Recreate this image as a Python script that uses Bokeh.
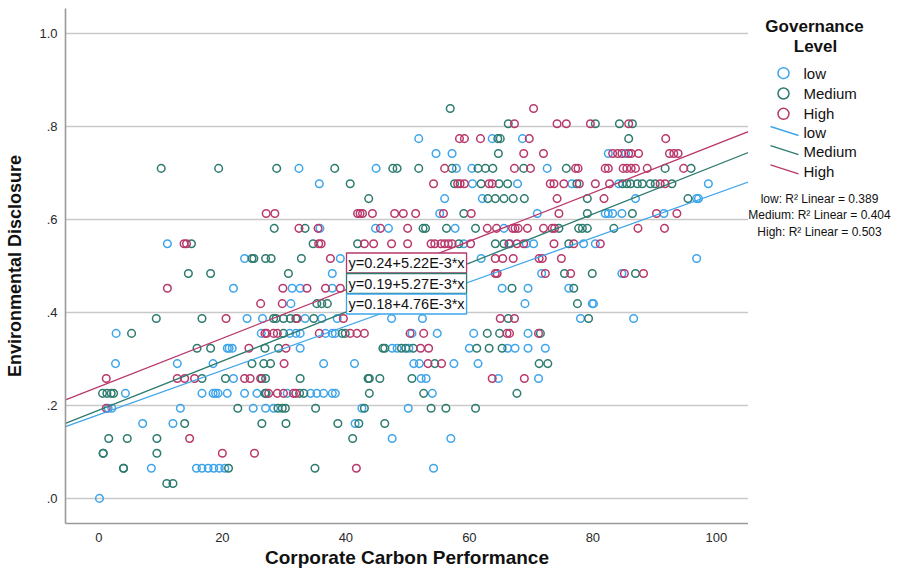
import numpy as np
from bokeh.plotting import figure
from bokeh.layouts import row
from bokeh.models import Range1d, Label, FixedTicker
from bokeh.core.properties import value
from bokeh.embed import file_html
from bokeh.resources import INLINE

FONT = "Liberation Sans"

# ---------------- data (Corporate Carbon Performance, Environmental Disclosure) ----------------
groups = ["low", "Medium", "High"]
colors = ["#3fa5ea", "#2e7b6f", "#b9386b"]

low_rows = [
    (0.774, [51.8, 63.7, 68.6]),
    (0.742, [54.6, 57.2, 82.5, 85.3]),
    (0.710, [32.4, 44.9, 57.9, 60.4, 72.6]),
    (0.677, [35.7, 60.5, 67.8, 76.6, 84.2, 98.7]),
    (0.645, [56.0, 62.1, 86.9, 96.8, 97.1]),
    (0.613, [55.2, 71.0, 82.0, 82.5, 83.2, 84.7, 91.5]),
    (0.581, [35.8, 44.8, 46.9, 57.7, 65.6]),
    (0.548, [11.1, 59.1, 66.6, 69.2, 70.4, 78.5, 80.4]),
    (0.516, [23.6, 39.1, 61.9, 96.8]),
    (0.484, [37.8, 71.7, 84.7]),
    (0.452, [21.8, 31.3, 32.6, 37.8, 65.3, 69.5, 76.1]),
    (0.419, [31.1, 69.0, 79.9, 80.1]),
    (0.387, [24.0, 26.5, 33.4, 36.1, 38.6, 47.4, 52.4, 78.0, 86.6]),
    (0.355, [2.8, 26.3, 30.9, 31.9, 32.6, 36.7, 37.8, 38.3, 50.7, 54.8, 60.7, 69.5]),
    (0.323, [20.8, 21.1, 21.6, 32.6, 47.5, 48.3, 50.2, 60.0, 66.2, 67.4, 69.5, 72.3]),
    (0.290, [2.7, 12.7, 18.5, 36.4, 41.4, 51.0, 51.9, 57.5, 61.4]),
    (0.258, [21.8, 52.2, 53.0, 64.7, 71.2]),
    (0.226, [4.3, 16.7, 18.5, 18.9, 19.3, 20.8, 23.6, 25.6, 30.5, 34.3, 35.3, 36.4, 37.8, 38.3, 54.0]),
    (0.194, [1.5, 2.1, 13.2, 25.0, 27.0, 28.3, 42.6, 50.1]),
    (0.161, [7.1, 12.0, 41.5]),
    (0.129, [47.5, 57.0]),
    (0.065, [8.5, 15.8, 16.7, 17.7, 18.6, 19.5, 20.4, 54.2]),
    (0.000, [0.1]),
]

medium_rows = [
    (0.839, [56.9]),
    (0.806, [66.3, 80.4, 84.3, 86.4]),
    (0.774, [64.6, 65.0, 85.8]),
    (0.742, [64.7]),
    (0.710, [10.1, 19.4, 28.8, 38.2, 47.6, 48.3, 51.8, 57.2, 61.4, 62.6, 63.8, 68.8, 75.7, 91.7, 95.9]),
    (0.677, [40.7, 57.6, 61.9, 64.8, 66.2, 77.4, 84.8, 85.5, 86.1, 87.2, 88.0, 89.3, 90.1, 92.8]),
    (0.645, [43.7, 63.0, 64.2, 65.6, 67.1, 68.9, 79.1, 95.4]),
    (0.613, [59.1, 79.1, 86.4]),
    (0.581, [28.4, 33.4, 52.5, 52.9, 56.3, 61.0, 74.5, 77.7, 78.3, 79.1, 83.4]),
    (0.548, [15.0, 34.7, 41.9, 58.3, 64.2, 65.6, 76.1]),
    (0.516, [24.8, 25.1, 27.0, 27.9, 32.8]),
    (0.484, [14.5, 18.1, 30.7, 75.4, 79.9, 86.9]),
    (0.452, [66.9, 76.9]),
    (0.419, [35.3, 36.1, 37.0, 77.5]),
    (0.387, [9.3, 16.7, 28.3, 28.7, 29.9, 31.0, 31.9, 34.8, 66.3, 79.3]),
    (0.355, [5.3, 29.9, 39.4, 39.9, 62.9, 64.9, 71.5]),
    (0.323, [15.9, 18.1, 26.9, 29.1, 46.0, 46.3, 49.0, 49.7, 50.9, 61.2, 63.2, 65.3]),
    (0.290, [24.8, 26.7, 27.8, 54.4, 71.3, 72.7]),
    (0.258, [16.7, 20.5, 26.4, 27.0, 32.6, 43.6, 43.8, 45.5, 50.7]),
    (0.226, [0.6, 1.3, 2.0, 2.4, 26.9, 27.1, 32.5, 33.2, 43.8, 52.6, 67.7]),
    (0.194, [22.5, 29.0, 29.7, 30.2, 35.1, 43.0, 53.8, 56.2, 61.0]),
    (0.161, [13.9, 26.4, 30.3, 38.7, 42.1, 46.3]),
    (0.129, [1.6, 4.6, 9.4, 41.1]),
    (0.097, [0.7, 0.7, 9.4]),
    (0.065, [4.0, 4.0, 21.0, 35.0]),
    (0.032, [11.0, 12.0]),
]

high_rows = [
    (0.839, [70.4]),
    (0.806, [67.3, 74.2, 75.7, 79.6, 85.8]),
    (0.774, [58.4, 59.2, 61.8, 69.7, 91.8]),
    (0.742, [68.8, 72.0, 83.2, 84.0, 84.7, 85.8, 86.2, 87.4, 92.4, 93.1, 93.8]),
    (0.710, [56.0, 67.3, 69.9, 77.2, 77.6, 82.0, 82.5, 84.9, 85.5, 86.2, 86.9, 88.8, 94.7]),
    (0.677, [54.2, 58.1, 58.5, 59.2, 63.2, 63.7, 73.1, 73.7, 75.3, 77.8, 80.4, 82.7, 90.9, 91.7]),
    (0.645, [74.2, 81.8]),
    (0.613, [27.1, 28.5, 41.9, 42.3, 42.7, 44.3, 47.9, 49.3, 51.3, 55.8, 60.3, 74.5, 90.3, 93.6]),
    (0.581, [32.4, 35.5, 45.6, 50.0, 62.9, 64.4, 67.0, 67.4, 67.9, 69.4, 72.0, 73.4, 73.8, 87.3, 91.6]),
    (0.548, [13.8, 14.2, 35.6, 36.0, 43.0, 44.5, 47.4, 50.0, 53.8, 54.4, 55.4, 56.0, 56.6, 57.2,
             60.2, 66.4, 67.7, 68.8, 73.7, 76.9, 81.2]),
    (0.516, [37.5, 64.2, 65.4, 67.1, 71.3, 71.8, 74.9]),
    (0.484, [64.2, 64.5, 72.3, 76.4, 85.1, 88.2]),
    (0.452, [11.1, 29.8, 33.7, 36.7, 39.1]),
    (0.419, [26.2, 29.7]),
    (0.387, [20.6, 32.1, 39.6, 65.0, 67.3]),
    (0.355, [26.9, 27.2, 28.3, 28.9, 35.7, 40.7, 41.8, 43.0, 50.4, 52.6, 66.1, 66.5, 71.2]),
    (0.323, [24.3, 30.3, 52.1, 53.4]),
    (0.290, [30.0, 53.3, 55.5]),
    (0.258, [1.2, 12.7, 13.9, 15.5, 23.6, 24.5, 26.2, 63.7, 68.9]),
    (0.226, [27.5, 28.9, 29.9, 31.5, 31.9]),
    (0.194, [1.2]),
    (0.129, [14.7]),
    (0.097, [20.0, 25.2]),
    (0.065, [41.7]),
]

# linear fit coefficients (intercept, slope) and R^2
intercepts = [0.18, 0.19, 0.24]
slopes = [4.76e-3, 5.27e-3, 5.22e-3]
slope_text = ["4.76E-3", "5.27E-3", "5.22E-3"]
r2 = ["0.389", "0.404", "0.503"]

x_ticks = [0, 20, 40, 60, 80, 100]
y_ticks = [0.0, 0.2, 0.4, 0.6, 0.8, 1.0]
y_tick_labels = [".0", ".2", ".4", ".6", ".8", "1.0"]


def flatten(rows):
    xs, ys = [], []
    for yv, xl in rows:
        xs += xl
        ys += [yv] * len(xl)
    return xs, ys


# ---------------- main figure ----------------
X0, X1 = -5.4, 105.2
p = figure(width=748, height=571, x_range=Range1d(X0, X1), y_range=Range1d(-0.054, 1.054),
           output_backend="svg", toolbar_location=None,
           min_border_left=65, min_border_right=0, min_border_top=8, min_border_bottom=48)
p.outline_line_color = None
p.background_fill_color = "white"
p.border_fill_color = "white"

p.xgrid.grid_line_color = None
p.ygrid.ticker = FixedTicker(ticks=y_ticks)
p.ygrid.grid_line_color = "#c9c9c9"
p.ygrid.grid_line_width = 1.6

for ax in (p.xaxis[0], p.yaxis[0]):
    ax.axis_line_color = "#9a9a9a"
    ax.axis_line_width = 1.6
    ax.major_tick_line_color = None
    ax.minor_tick_line_color = None
    ax.major_tick_out = 0
    ax.major_tick_in = 0
    ax.minor_tick_out = 0
    ax.major_label_text_font = FONT
    ax.major_label_text_font_size = "13px"
    ax.major_label_text_color = "#2a2a2a"
    ax.axis_label_text_font = FONT
    ax.axis_label_text_font_style = "bold"
    ax.axis_label_text_color = "#111111"

p.xaxis.ticker = FixedTicker(ticks=x_ticks)
p.xaxis.major_label_standoff = 9
p.xaxis.axis_label = "Corporate Carbon Performance"
p.xaxis.axis_label_text_font_size = "19px"
p.xaxis.axis_label_standoff = 2

p.yaxis.ticker = FixedTicker(ticks=y_ticks)
p.yaxis.major_label_overrides = {t: s for t, s in zip(y_ticks, y_tick_labels)}
p.yaxis.major_label_standoff = 8
p.yaxis.axis_label = "Environmental Disclosure"
p.yaxis.axis_label_text_font_size = "18px"
p.yaxis.axis_label_standoff = 11

# points
for rows, c in zip([low_rows, medium_rows, high_rows], colors):
    xs, ys = flatten(rows)
    p.scatter(xs, ys, marker="circle", size=7.6, fill_color=None, line_color=c, line_width=1.5)

# fit lines
xl = np.array([X0, X1])
for a, b, c in zip(intercepts, slopes, colors):
    p.line(xl, a + b * xl, line_color=c, line_width=1.3)

# equation boxes (High, Medium, Low from top); screen units relative to plot frame
FL, FB = 65, 523
eq_order = [2, 1, 0]
eq_y = [262.5, 283.0, 303.5]
for idx, yy in zip(eq_order, eq_y):
    p.add_layout(Label(x=346 - FL, y=FB - yy, x_units="screen", y_units="screen",
                       text=f"y={intercepts[idx]:.2f}+{slope_text[idx]}*x",
                       text_font=FONT, text_font_size="14.5px", text_color="#111111",
                       text_align="left", text_baseline="middle",
                       border_line_color=colors[idx], border_line_width=1.3,
                       background_fill_color="white", background_fill_alpha=1.0,
                       padding=2))

# ---------------- legend panel (coordinates in pixels of the chart) ----------------
# the row layout aligns this panel's frame with the main frame (pixel rows 8..523)
leg = figure(width=144, height=571, x_range=Range1d(748, 892), y_range=Range1d(523, 8),
             output_backend="svg", toolbar_location=None, min_border=0,
             min_border_top=8, min_border_bottom=48,
             x_axis_location=None, y_axis_location=None)
leg.outline_line_color = None
leg.grid.visible = False
leg.background_fill_color = "white"
leg.border_fill_color = "white"

leg.text(x=[814, 815], y=[26, 46], text=["Governance", "Level"], text_font=value(FONT),
         text_font_size="17px", text_font_style="bold", text_color="#111111",
         text_align="center", text_baseline="middle")

mk_y = [72.7, 93.0, 113.3]
leg.scatter(x=[783] * 3, y=mk_y, marker="circle", size=11, fill_color=None,
            line_color=colors, line_width=1.5)
leg.text(x=[803] * 3, y=mk_y, text=groups, text_font=value(FONT), text_font_size="15px",
         text_color="#111111", text_align="left", text_baseline="middle")

ln_y0 = [126.0, 145.2, 164.4]
leg.segment(x0=[770] * 3, y0=ln_y0, x1=[798] * 3, y1=[v + 9 for v in ln_y0],
            line_color=colors, line_width=1.4)
leg.text(x=[803] * 3, y=[131.5, 151.0, 170.5], text=groups, text_font=value(FONT),
         text_font_size="15px", text_color="#111111", text_align="left", text_baseline="middle")

leg.text(x=[819] * 3, y=[198, 214.5, 231], text=[f"{g}: R\u00b2 Linear = {v}" for g, v in zip(groups, r2)],
         text_font=value(FONT), text_font_size="12px", text_color="#111111",
         text_align="center", text_baseline="middle")

layout = row(p, leg)
open("out.html", "w").write(file_html(layout, INLINE))
